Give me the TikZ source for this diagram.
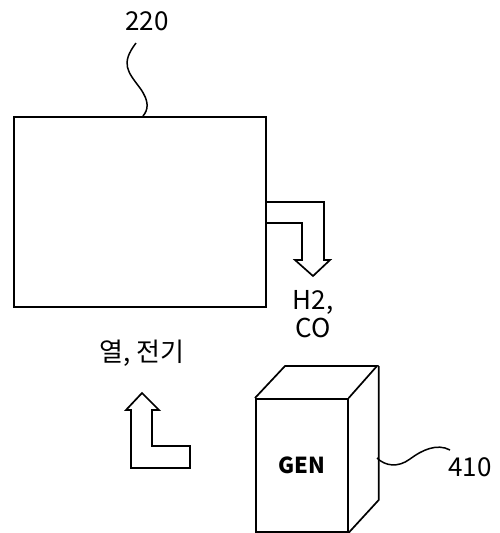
\documentclass[tikz,border=0pt]{standalone}
\usepackage{fontspec}
\setmainfont{Noto Sans CJK KR}
\usetikzlibrary{positioning}

\begin{document}
\begin{tikzpicture}[x=1pt, y=-1pt, line width=1.7pt, line join=miter,
  font=\fontsize{26}{28}\selectfont,
  refnum/.style={inner sep=1pt},
  lead/.style={line width=1.5pt}]
\useasboundingbox (0,0) rectangle (499,533);
% reactor
\node[draw, anchor=north west, minimum width=252pt, minimum height=190pt, inner sep=0pt] (reactor) at (13,116) {};
\node[refnum] (num220) at (147,21) {220};
\coordinate (lead220) at (143,116);
\draw[lead] (136,43) .. controls (120,64) and (128,72) .. (140,88)
  .. controls (150,102) and (148,110) .. (lead220);
% gas outlet arrow
\draw (265,202) -- (324,202) -- (324,260) -- (330,260) -- (313,276)
  -- (295,260) -- (302,260) -- (302,223) -- (265,223);
\node[align=center] (gas) at (313,314) {H2,\\CO};
% heat and power
\node (heat) at (142,353) {열, 전기};
\draw (131,468) -- (131,410) -- (126,410) -- (142,393) -- (159,410)
  -- (152,410) -- (152,446) -- (190,446) -- (190,468) -- cycle;
% generator
\node[draw, anchor=north west, minimum width=92pt, minimum height=133pt, inner sep=0pt,
  font=\fontsize{22}{24}\selectfont\bfseries] (gen) at (255,398) {GEN};
\draw (gen.north west) -- ++(30,-32) -- ++(92,0) -- (gen.north east);
\draw (gen.north east) ++(30,-32) -- ++(0,134) -- (gen.south east);
\node[refnum] (num410) at (470,467) {410};
\coordinate (lead410) at (377,458);
\draw[lead] (lead410) .. controls (385,466) and (398,468) .. (410,459)
  .. controls (422,450) and (437,443) .. (450,450);
\end{tikzpicture}
\end{document}
